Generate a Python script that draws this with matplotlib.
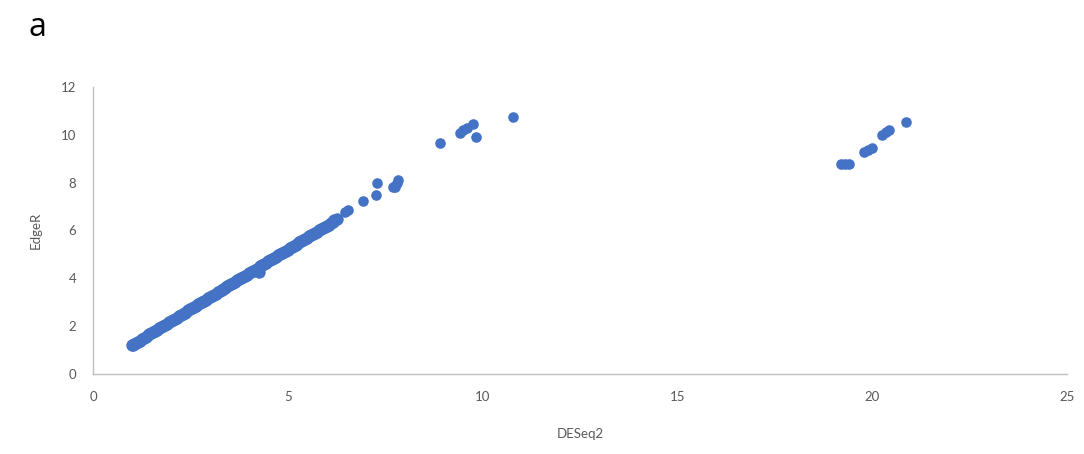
import matplotlib.pyplot as plt

# dense part of the cloud (read along the band)
deseq_dense = [1.00, 1.03, 1.06, 1.10, 1.15, 1.20, 1.25, 1.30, 1.35, 1.40, 1.45, 1.50,
               1.55, 1.60, 1.65, 1.70, 1.75, 1.80, 1.85, 1.90, 1.95, 2.00, 2.05, 2.10,
               2.15, 2.20, 2.25, 2.30, 2.35, 2.40, 2.45, 2.50, 2.55, 2.60, 2.65, 2.70,
               2.75, 2.80, 2.85, 2.90, 2.95, 3.00, 3.05, 3.10, 3.15, 3.20, 3.25, 3.30,
               3.35, 3.40, 3.45, 3.50, 3.55, 3.60, 3.65, 3.70, 3.75, 3.80, 3.85, 3.90,
               3.95, 4.00, 4.05, 4.10, 4.15, 4.20, 4.25, 4.30, 4.35, 4.40, 4.45, 4.50,
               4.55, 4.60, 4.65, 4.70, 4.75, 4.80, 4.85, 4.90, 4.95, 5.00, 5.05, 5.10,
               5.15, 5.20, 5.25, 5.30, 5.35, 5.40, 5.45, 5.50, 5.55, 5.60, 5.65, 5.70,
               5.75, 5.80, 5.85, 5.90, 5.95, 6.00, 6.05, 6.10, 6.15, 6.20, 6.26]
edger_dense = [1.20, 1.22, 1.26, 1.30, 1.35, 1.40, 1.45, 1.50, 1.56, 1.61, 1.66, 1.71,
               1.76, 1.81, 1.86, 1.91, 1.96, 2.01, 2.06, 2.11, 2.16, 2.21, 2.26, 2.31,
               2.36, 2.41, 2.46, 2.51, 2.56, 2.61, 2.66, 2.71, 2.76, 2.81, 2.86, 2.91,
               2.96, 3.01, 3.06, 3.11, 3.16, 3.21, 3.26, 3.31, 3.36, 3.41, 3.46, 3.51,
               3.56, 3.61, 3.66, 3.71, 3.76, 3.81, 3.86, 3.91, 3.96, 4.01, 4.06, 4.11,
               4.16, 4.21, 4.26, 4.31, 4.36, 4.40, 4.27, 4.50, 4.56, 4.61, 4.66, 4.71,
               4.76, 4.81, 4.86, 4.91, 4.96, 5.01, 5.06, 5.11, 5.16, 5.20, 5.25, 5.30,
               5.35, 5.40, 5.45, 5.50, 5.55, 5.60, 5.65, 5.70, 5.75, 5.80, 5.85, 5.90,
               5.95, 6.00, 6.05, 6.10, 6.15, 6.20, 6.25, 6.30, 6.36, 6.42, 6.50]

# sparse outliers
deseq_sparse = [6.47, 6.55, 6.93, 7.26, 7.29, 7.70, 7.75, 7.80, 7.83, 8.90, 9.42, 9.50,
                9.60, 9.75, 9.83, 10.78, 19.20, 19.30, 19.40, 19.80, 19.90, 20.00,
                20.25, 20.35, 20.45, 20.87]
edger_sparse = [6.78, 6.86, 7.24, 7.50, 8.00, 7.80, 7.80, 8.00, 8.10, 9.66, 10.08, 10.20,
                10.30, 10.45, 9.90, 10.75, 8.80, 8.80, 8.80, 9.30, 9.38, 9.45,
                10.00, 10.10, 10.20, 10.55]

xticks = [0, 5, 10, 15, 20, 25]
yticks = [0, 2, 4, 6, 8, 10, 12]

blue = '#4472C4'
grey_txt = '#595959'
grey_line = '#BFBFBF'

fig = plt.figure(figsize=(10.84, 4.54), dpi=100)
ax = fig.add_axes([0.0858, 0.1762, 0.8982, 0.6322])

ax.scatter(deseq_dense, edger_dense, s=80, color=blue, linewidths=0)
ax.scatter(deseq_sparse, edger_sparse, s=58, color=blue, linewidths=0)

ax.set_xlim(0, 25)
ax.set_ylim(0, 12)
ax.set_xticks(xticks)
ax.set_yticks(yticks)

for s in ['top', 'right']:
    ax.spines[s].set_visible(False)
for s in ['left', 'bottom']:
    ax.spines[s].set_color(grey_line)
    ax.spines[s].set_linewidth(1.0)

ax.tick_params(axis='both', length=0, labelsize=9.5, labelcolor=grey_txt)
ax.tick_params(axis='y', pad=12)
ax.tick_params(axis='x', pad=12)
for lab in ax.get_xticklabels() + ax.get_yticklabels():
    lab.set_fontfamily('Lato')

ax.set_xlabel('DESeq2', fontsize=9.5, color=grey_txt, family='Lato', labelpad=18)
ax.set_ylabel('EdgeR', fontsize=9.5, color=grey_txt, family='Lato', labelpad=14)

fig.text(0.026, 0.94, 'a', fontsize=23, family='Open Sans', va='center', ha='left')

fig.savefig('out.png', dpi=100)
